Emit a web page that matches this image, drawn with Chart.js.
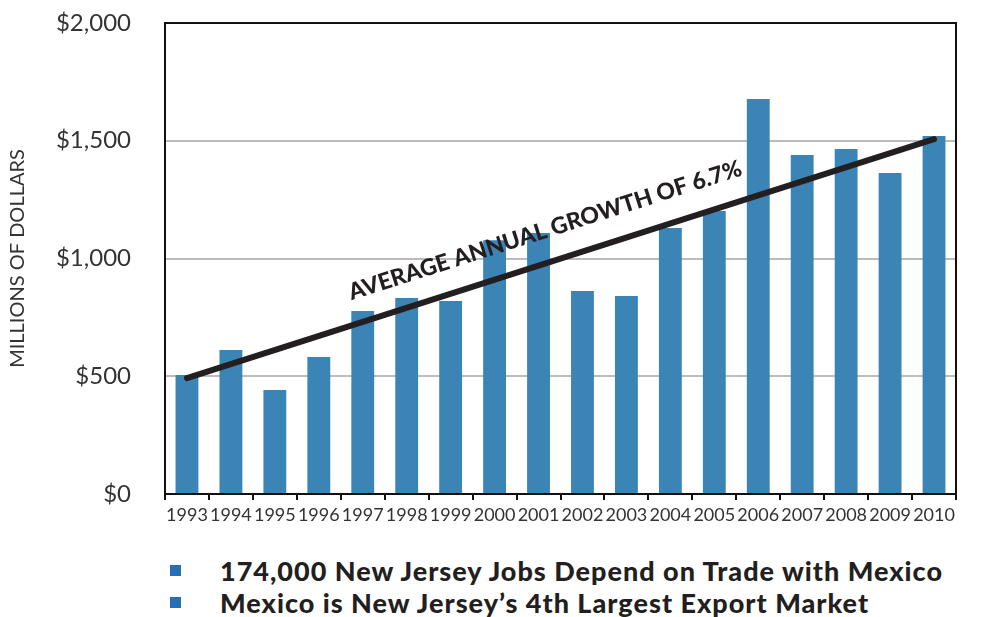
<!DOCTYPE html>
<html>
<head>
<meta charset="utf-8">
<script src="https://cdn.jsdelivr.net/npm/chart.js@4.4.1/dist/chart.umd.min.js"></script>
<style>
  html, body { margin: 0; padding: 0; background: #fff; }
  #wrap { position: relative; width: 989px; height: 617px; }
  #chart { position: absolute; left: 0; top: 0; }
  .note {
    position: absolute; left: 220px;
    font-family: Lato, sans-serif; font-weight: 900; font-size: 27px;
    letter-spacing: 1px;
    color: #231f20; white-space: nowrap; line-height: 1;
  }
  .note::before {
    content: ""; position: absolute; left: -50px; top: 8px;
    width: 11px; height: 11px; background: #2370b5;
  }
</style>
</head>
<body>
<div id="wrap">
  <canvas id="chart" width="989" height="540"></canvas>
  <div class="note" id="note0" style="top:557px"></div>
  <div class="note" id="note1" style="top:589px"></div>
</div>
<script>
// Datos
const years = ["1993", "1994", "1995", "1996", "1997", "1998", "1999", "2000", "2001",
  "2002", "2003", "2004", "2005", "2006", "2007", "2008", "2009", "2010"];
const exportValues = [505, 611, 442, 582, 777, 832, 820, 1078, 1108,
  862, 841, 1129, 1202, 1677, 1439, 1465, 1363, 1520];
// línea de tendencia: solo los extremos
const trendValues = [492, null, null, null, null, null, null, null, null,
  null, null, null, null, null, null, null, null, 1507];
const yTicks = [0, 500, 1000, 1500, 2000];
const trendLabel = "AVERAGE ANNUAL GROWTH OF 6.7%";
const yTitle = "MILLIONS OF DOLLARS";
const notes = [
  "174,000 New Jersey Jobs Depend on Trade with Mexico",
  "Mexico is New Jersey\u2019s 4th Largest Export Market"
];

notes.forEach((t, i) => { document.getElementById("note" + i).textContent = t; });

const BAR = "#3a84b6";
const INK = "#231f20";

// marco superior/derecho y texto sobre la línea de tendencia
const framePlugin = {
  id: "frame",
  afterDatasetsDraw(chart) {
    const { ctx, chartArea: a } = chart;
    ctx.save();
    ctx.strokeStyle = "#111";
    ctx.lineWidth = 2;
    ctx.beginPath();
    ctx.moveTo(a.left, a.top);
    ctx.lineTo(a.right, a.top);
    ctx.lineTo(a.right, a.bottom);
    ctx.stroke();

    const pts = chart.getDatasetMeta(1).data;
    const p0 = pts[0], p1 = pts[pts.length - 1];
    const ang = Math.atan2(p1.y - p0.y, p1.x - p0.x);
    ctx.translate((p0.x + p1.x) / 2, (p0.y + p1.y) / 2);
    ctx.rotate(ang);
    ctx.fillStyle = INK;
    ctx.font = "900 23px Lato";
    ctx.textAlign = "center";
    ctx.textBaseline = "alphabetic";
    ctx.fillText(trendLabel, -6, -24);
    ctx.restore();
  }
};

new Chart(document.getElementById("chart"), {
  data: {
    labels: years,
    datasets: [
      {
        type: "bar",
        data: exportValues,
        backgroundColor: BAR,
        barPercentage: 0.52,
        categoryPercentage: 1,
        order: 1
      },
      {
        type: "line",
        data: trendValues,
        spanGaps: true,
        borderColor: INK,
        borderWidth: 6,
        borderCapStyle: "round",
        pointRadius: 0,
        order: 0
      }
    ]
  },
  options: {
    responsive: false,
    animation: false,
    layout: { padding: { top: 0, right: 33, left: 0, bottom: 0 } },
    plugins: { legend: { display: false }, tooltip: { enabled: false } },
    scales: {
      x: {
        offset: true,
        afterFit: (s) => { s.height = 46; },
        grid: {
          offset: true,
          drawOnChartArea: false,
          drawTicks: true,
          tickLength: 6,
          color: "#111",
          lineWidth: 2
        },
        border: { display: true, color: "#111", width: 2 },
        ticks: {
          autoSkip: false,
          maxRotation: 0,
          padding: 4,
          color: "#333",
          font: { family: "Lato", size: 18 }
        }
      },
      y: {
        min: 0,
        max: 2000,
        afterFit: (s) => { s.width = 165; s.paddingTop = 23; s.paddingBottom = 0; },
        afterBuildTicks: (s) => { s.ticks = yTicks.map(v => ({ value: v })); },
        grid: {
          drawTicks: false,
          color: (c) => (c.tick && (c.tick.value === 0 || c.tick.value === 2000)) ? "rgba(0,0,0,0)" : "#bcbcbc",
          lineWidth: 2
        },
        border: { display: true, color: "#111", width: 2 },
        ticks: {
          padding: 34,
          color: "#333",
          font: { family: "Lato", size: 24 },
          callback: (v) => "$" + v.toLocaleString("en-US")
        },
        title: {
          display: true,
          text: yTitle,
          color: "#333",
          padding: { top: 6, bottom: 0 },
          font: { family: "Lato", size: 20 }
        }
      }
    }
  },
  plugins: [framePlugin]
});
</script>
</body>
</html>
